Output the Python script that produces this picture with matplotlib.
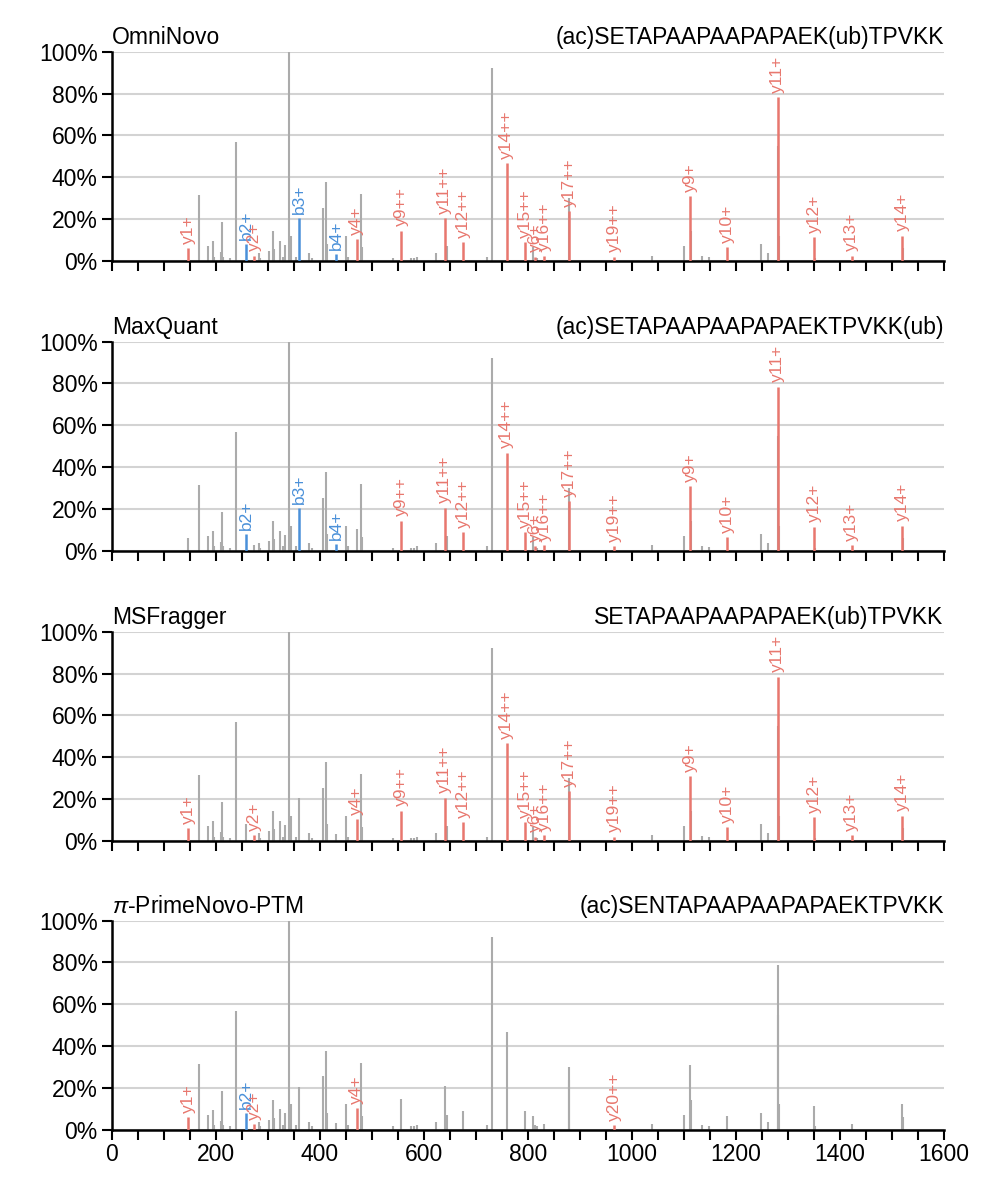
import matplotlib
matplotlib.use("Agg")
import matplotlib.pyplot as plt
from matplotlib.ticker import MultipleLocator, FuncFormatter

plt.rcParams['font.family'] = ['Liberation Sans', 'DejaVu Sans']
plt.rcParams['mathtext.fontset'] = 'custom'
plt.rcParams['mathtext.it'] = 'Liberation Sans:italic'
plt.rcParams['mathtext.rm'] = 'Liberation Sans'

# ---- spectrum (unannotated peaks) ----
gray_mz = [168.5, 184.6, 194, 196, 209.6, 212.7, 215, 227.5, 239.7, 283, 285,
           302.5, 310.9, 313, 323.7, 330, 334, 341.6, 344, 353.8, 380, 384.6, 407,
           412.8, 415, 451.2, 454, 478.8, 481, 540.3, 575.6, 582, 586.5, 623.7, 645,
           721, 730.7, 809.6, 817, 880, 1038.5, 1101, 1114, 1134.6, 1149, 1248,
           1262.7, 1282, 1284, 1353, 1522]
gray_int = [31.4, 7, 9.3, 2, 4, 18.5, 2, 1.5, 56.6, 3.8, 1.5,
            4.5, 14, 5.5, 9.6, 2, 7.7, 100, 12, 2, 3.6, 1.5, 25.4,
            37.8, 8, 12, 2, 31.9, 6.5, 1.5, 1.5, 1.5, 2, 3.5, 7,
            2, 92, 6.5, 1.5, 29.9, 2.5, 7, 14, 2.4, 1.7, 8,
            3.5, 55, 12, 1.5, 6]

# ---- candidate fragment-ion peaks ----
ion_mz = [147.3, 258.9, 274.3, 360.2, 431.3, 471.1, 556.3, 640.3, 676.2, 759.6, 795.5,
          814.6, 831.3, 879.5, 966.5, 1112, 1183.9, 1280.7, 1351, 1423, 1520]
ion_int = [6, 8, 2.5, 20.3, 3.3, 10.4, 14.4, 20.6, 8.8, 46.9, 9,
           2, 2.5, 23.8, 2, 31, 6.5, 78.5, 11.5, 2.5, 12]

y_series = ['y9++', 'y11++', 'y12++', 'y14++', 'y15++', 'y6+', 'y16++', 'y17++',
            'y19++', 'y9+', 'y10+', 'y11+', 'y12+', 'y13+', 'y14+']
labels_omninovo = ['y1+', 'b2+', 'y2+', 'b3+', 'b4+', 'y4+'] + y_series
labels_maxquant = ['', 'b2+', '', 'b3+', 'b4+', ''] + y_series
labels_msfragger = ['y1+', '', 'y2+', '', '', 'y4+'] + y_series
labels_primenovo = ['y1+', 'b2+', 'y2+', '', '', 'y4+', '', '', '', '', '', '', '', '',
                    'y20++', '', '', '', '', '', '']

methods = ['OmniNovo', 'MaxQuant', 'MSFragger', r'$\it{\pi}$-PrimeNovo-PTM']
peptides = ['(ac)SETAPAAPAAPAPAEK(ub)TPVKK', '(ac)SETAPAAPAAPAPAEKTPVKK(ub)',
            'SETAPAAPAAPAPAEK(ub)TPVKK', '(ac)SENTAPAAPAAPAPAEKTPVKK']
panel_labels = [labels_omninovo, labels_maxquant, labels_msfragger, labels_primenovo]

GRAY = '#ABABAB'
RED = '#E8776E'
BLUE = '#4A90D9'

fig = plt.figure(figsize=(9.98, 12.01), dpi=100)
left, width, height = 0.1119, 0.8337, 0.174
bottoms = [0.7829, 0.5415, 0.3000, 0.0595]

for i in range(4):
    ax = fig.add_axes([left, bottoms[i], width, height])
    ax.set_xlim(0, 1600)
    ax.set_ylim(0, 100)
    ax.yaxis.grid(True, color='#D3D3D3', linewidth=1.5, zorder=0)
    ax.set_axisbelow(True)
    ax.vlines(gray_mz, 0, gray_int, color=GRAY, linewidth=1.5, zorder=2)
    labs = panel_labels[i]
    for mz, inten, lab in zip(ion_mz, ion_int, labs):
        if lab == '':
            ax.vlines([mz], 0, [inten], color=GRAY, linewidth=1.5, zorder=2)
    for mz, inten, lab in zip(ion_mz, ion_int, labs):
        if lab:
            c = BLUE if lab.startswith('b') else RED
            ax.vlines([mz], 0, [inten], color=c, linewidth=1.8, zorder=3)
            ax.annotate(lab, (mz, inten), xytext=(0, 3), textcoords='offset points',
                        rotation=90, ha='center', va='bottom', color=c, fontsize=12.5,
                        zorder=4)
    for s in ['top', 'right']:
        ax.spines[s].set_visible(False)
    for s in ['left', 'bottom']:
        ax.spines[s].set_linewidth(1.8)
    ax.yaxis.set_major_locator(MultipleLocator(20))
    ax.yaxis.set_major_formatter(FuncFormatter(lambda v, p: f'{int(v)}%'))
    ax.xaxis.set_major_locator(MultipleLocator(200))
    ax.xaxis.set_minor_locator(MultipleLocator(50))
    ax.tick_params(axis='both', which='both', direction='out', width=1.5, length=7,
                   labelsize=16.5, pad=3)
    if i < 3:
        ax.tick_params(axis='x', labelbottom=False)
    ax.text(0.0, 1.037, methods[i], transform=ax.transAxes, ha='left', va='baseline',
            fontsize=16.5)
    ax.text(1.0, 1.037, peptides[i], transform=ax.transAxes, ha='right', va='baseline',
            fontsize=16.5)

fig.savefig('out.png', dpi=100)
